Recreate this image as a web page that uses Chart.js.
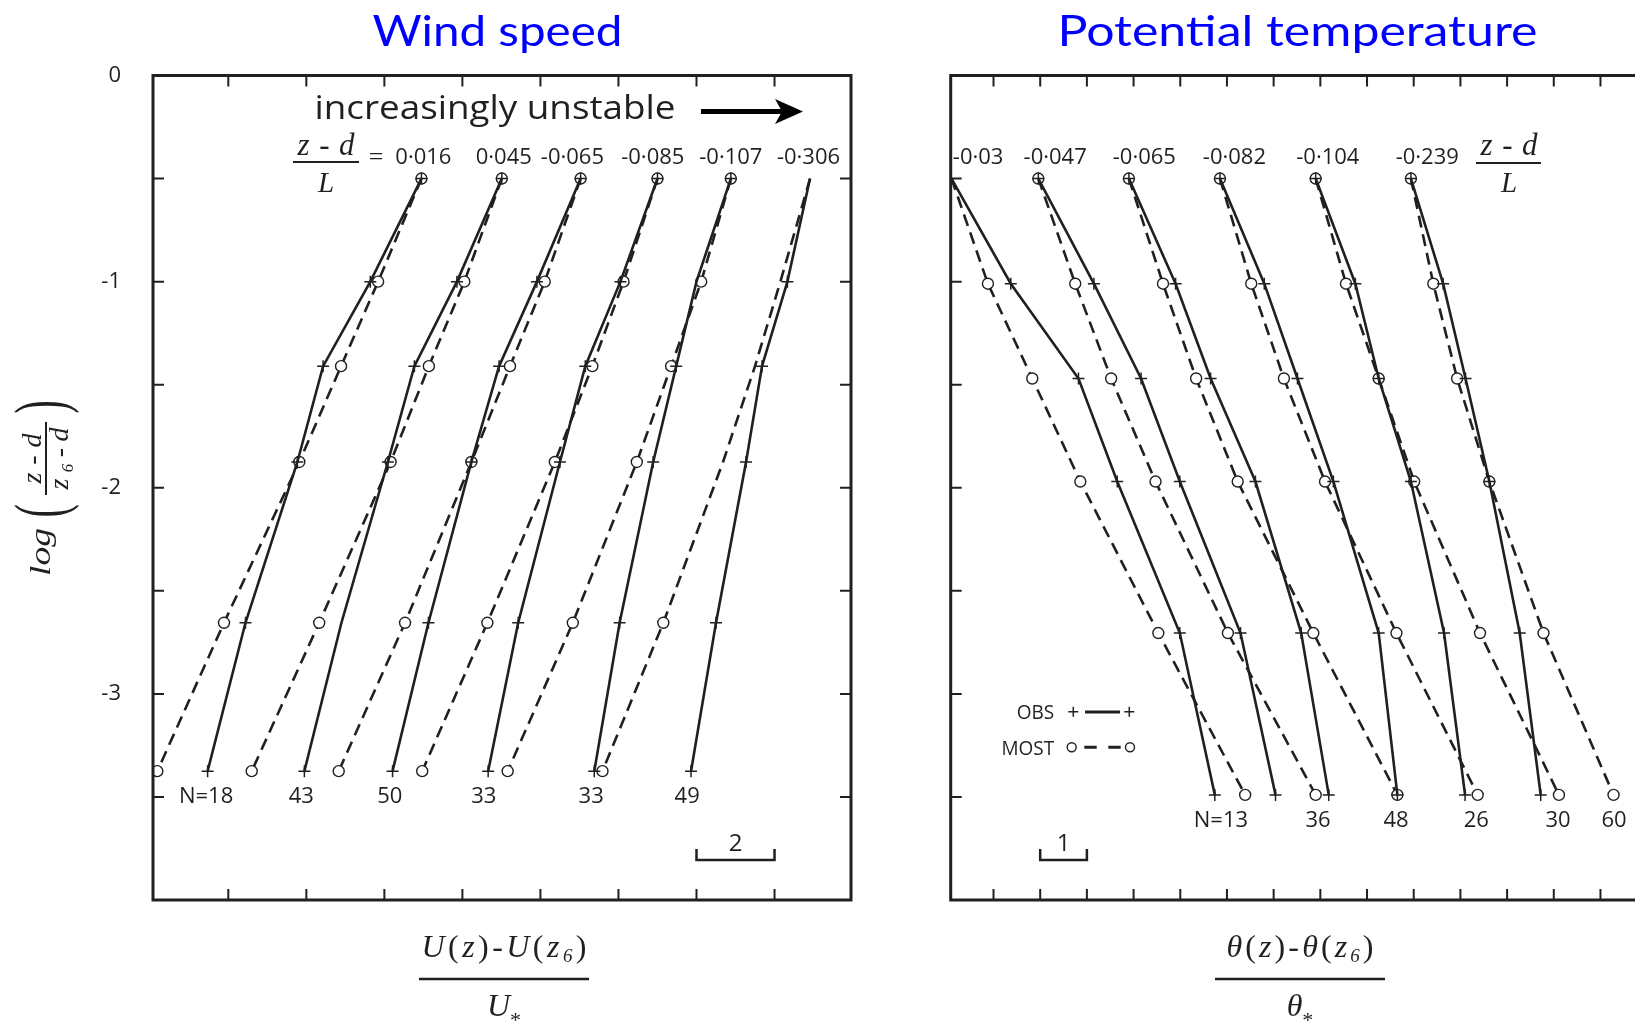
<!DOCTYPE html>
<html><head><meta charset="utf-8">
<script src="https://cdn.jsdelivr.net/npm/chart.js@4.4.1/dist/chart.umd.min.js"></script>
<style>
html,body{margin:0;padding:0;overflow:hidden;background:#fff;width:1635px;height:1021px;}
#c1{position:absolute;left:0;top:0;}
#c2{position:absolute;left:900px;top:0;}
svg{position:absolute;left:0;top:0;pointer-events:none;}
</style></head><body>
<canvas id="c1" width="900" height="1021"></canvas>
<canvas id="c2" width="800" height="1021"></canvas>
<svg width="1635" height="1021" font-family="Liberation Serif" fill="#231f20">
  <text x="497.5" y="46" text-anchor="middle" font-family="Lato" font-size="43" fill="#0000ff" textLength="250" lengthAdjust="spacingAndGlyphs">Wind speed</text>
  <text x="1297.5" y="46" text-anchor="middle" font-family="Lato" font-size="43" fill="#0000ff" textLength="480" lengthAdjust="spacingAndGlyphs">Potential temperature</text>
  <text x="495" y="118.5" text-anchor="middle" font-family="Open Sans" font-size="32" textLength="361" lengthAdjust="spacingAndGlyphs">increasingly unstable</text>
  <line x1="701" y1="111.5" x2="786" y2="111.5" stroke="#000" stroke-width="5"/>
  <polygon points="803,111.5 775,99 782,111.5 775,124" fill="#000"/>
  <!-- (z-d)/L left -->
  <text x="326" y="155" text-anchor="middle" font-size="31" font-style="italic" textLength="57" lengthAdjust="spacing">z-d</text>
  <line x1="293" x2="359" y1="162" y2="162" stroke="#231f20" stroke-width="2"/>
  <text x="326" y="192" text-anchor="middle" font-size="29" font-style="italic">L</text>
  <text x="376" y="165" text-anchor="middle" font-size="26">=</text>
  <!-- (z-d)/L right -->
  <text x="1509" y="155" text-anchor="middle" font-size="31" font-style="italic" textLength="57" lengthAdjust="spacing">z-d</text>
  <line x1="1476" x2="1541" y1="163" y2="163" stroke="#231f20" stroke-width="2"/>
  <text x="1509" y="192" text-anchor="middle" font-size="29" font-style="italic">L</text>
  <!-- x axis titles -->
  <text x="504" y="957" text-anchor="middle" font-size="32" font-style="italic" textLength="165" lengthAdjust="spacing">U<tspan font-style="normal">(</tspan>z<tspan font-style="normal">)-</tspan>U<tspan font-style="normal">(</tspan>z<tspan font-size="19" dy="5">6</tspan><tspan font-style="normal" dy="-5">)</tspan></text>
  <line x1="419" x2="589" y1="979" y2="979" stroke="#231f20" stroke-width="2.5"/>
  <text x="504" y="1016" text-anchor="middle" font-size="32" font-style="italic">U<tspan font-size="22" dy="11" font-style="normal">*</tspan></text>
  <text x="1300" y="957" text-anchor="middle" font-size="32" font-style="italic" textLength="147" lengthAdjust="spacing">θ<tspan font-style="normal">(</tspan>z<tspan font-style="normal">)-</tspan>θ<tspan font-style="normal">(</tspan>z<tspan font-size="19" dy="5">6</tspan><tspan font-style="normal" dy="-5">)</tspan></text>
  <line x1="1215" x2="1385" y1="979" y2="979" stroke="#231f20" stroke-width="2.5"/>
  <text x="1300" y="1016" text-anchor="middle" font-size="32" font-style="italic">θ<tspan font-size="22" dy="11" font-style="normal">*</tspan></text>
  <!-- y axis title -->
  <g transform="translate(50,488) rotate(-90)">
    <text x="-64" y="0" text-anchor="middle" font-size="30" font-style="italic" textLength="48" lengthAdjust="spacingAndGlyphs">log</text>
    <text transform="translate(-23,14) scale(0.55,1)" text-anchor="middle" font-size="72">(</text>
    <text x="29.5" y="-9" text-anchor="middle" font-size="28" font-style="italic" textLength="50" lengthAdjust="spacing">z-d</text>
    <line x1="-7" x2="66" y1="-4" y2="-4" stroke="#231f20" stroke-width="2"/>
    <text x="29.5" y="18" text-anchor="middle" font-size="28" font-style="italic" textLength="62" lengthAdjust="spacing">z<tspan font-size="17" dy="5">6</tspan><tspan dy="-5">-d</tspan></text>
    <text transform="translate(81,14) scale(0.55,1)" text-anchor="middle" font-size="72">)</text>
  </g>
</svg>
<script>
// ---------- DATA ----------
const windLevels = [-0.5, -1.0, -1.41, -1.875, -2.655, -3.375];
const tempLevels = [-0.5, -1.01, -1.47, -1.97, -2.705, -3.49];

const windStability = ['0·016', '0·045', '-0·065', '-0·085', '-0·107', '-0·306'];
const windStabilityX = [7.00, 9.06, 10.82, 12.88, 14.88, 16.87];
const windN = ['N=18', '43', '50', '33', '33', '49'];
const windNX = [1.43, 3.87, 6.14, 8.55, 11.30, 13.76];

const tempStability = ['-0·03', '-0·047', '-0·065', '-0·082', '-0·104', '-0·239'];
const tempStabilityX = [0.67, 2.32, 4.23, 6.16, 8.16, 10.29];
const tempN = ['N=13', '36', '48', '26', '30', '60'];
const tempNX = [5.87, 7.95, 9.62, 11.34, 13.09, 14.29];

// wind speed profiles (U(z)-U(z6))/U*, offset per stability class
const windObs = [
  [6.95, 5.64, 4.43, 3.77, 2.44, 1.47],
  [9.01, 7.86, 6.77, 6.09, 4.90, 3.95],
  [11.03, 9.91, 8.94, 8.23, 7.13, 6.21],
  [13.00, 12.05, 11.15, 10.50, 9.43, 8.66],
  [14.88, 14.00, 13.48, 12.89, 12.03, 11.38],
  [16.91, 16.33, 15.68, 15.27, 14.50, 13.86]
];
const windMost = [
  [6.95, 5.84, 4.89, 3.82, 1.89, 0.18],
  [9.01, 8.05, 7.14, 6.16, 4.33, 2.60],
  [11.03, 10.11, 9.22, 8.23, 6.53, 4.83],
  [13.00, 12.13, 11.33, 10.37, 8.64, 6.97],
  [14.88, 14.12, 13.35, 12.47, 10.83, 9.16],
  [16.91, 16.15, 15.50, 14.68, 13.15, 11.59]
];
// potential temperature profiles (θ(z)-θ(z6))/θ*
const tempObs = [
  [0.10, 1.37, 2.82, 3.65, 4.99, 5.74],
  [1.96, 3.15, 4.16, 4.99, 6.29, 7.04],
  [3.90, 4.90, 5.65, 6.61, 7.59, 8.18],
  [5.85, 6.80, 7.51, 8.28, 9.25, 9.65],
  [7.90, 8.75, 9.25, 9.94, 10.65, 11.10],
  [9.94, 10.63, 11.11, 11.62, 12.27, 12.72]
];
const tempMost = [
  [0.10, 0.88, 1.83, 2.86, 4.53, 6.39],
  [1.96, 2.75, 3.52, 4.47, 6.02, 7.90],
  [3.90, 4.63, 5.34, 6.23, 7.85, 9.65],
  [5.85, 6.52, 7.22, 8.10, 9.63, 11.37],
  [7.90, 8.55, 9.25, 10.01, 11.42, 13.11],
  [9.94, 10.42, 10.93, 11.62, 12.78, 14.28]
];
// level indices where no marker is printed in the original
const windObsNoMarker = [[], [4], [], [], [1], [0]];
const windMostNoMarker = [[], [], [], [], [], [0, 1, 2, 3]];
const tempObsNoMarker = [[0], [], [], [], [], []];
const tempMostNoMarker = [[0], [], [], [], [], []];

const windXTicks = [2, 4, 6, 8, 10, 12, 14, 16];
const tempXTicks = [1, 2, 3, 4, 5, 6, 7, 8, 9, 10, 11, 12, 13, 14];
const yTicks = [0, -0.5, -1, -1.5, -2, -2.5, -3, -3.5, -4];
const yTickLabels = [0, -1, -2, -3];
const windScaleBar = [14, 16], windScaleLabel = '2';
const tempScaleBar = [2, 3], tempScaleLabel = '1';

// ---------- DRAWING ----------
const INK = '#231f20';
Chart.defaults.font.family = '"Open Sans"';

function buildDatasets(levels, obs, most, obsHidden, mostHidden) {
  const ds = [];
  obs.forEach((row, i) => ds.push({
    data: row.map((x, j) => ({x, y: levels[j]})),
    showLine: true, borderColor: INK, borderWidth: 2.6, tension: 0,
    pointStyle: 'cross', pointRadius: row.map((_, j) => obsHidden[i].includes(j) ? 0 : 6),
    pointBorderColor: INK, pointBorderWidth: 1.5, order: 0
  }));
  most.forEach((row, i) => ds.push({
    data: row.map((x, j) => ({x, y: levels[j]})),
    showLine: true, borderColor: INK, borderWidth: 2.6, borderDash: [12, 7], tension: 0,
    pointStyle: 'circle', pointRadius: row.map((_, j) => mostHidden[i].includes(j) ? 0 : 5.5),
    pointBorderColor: INK, pointBackgroundColor: '#fff', pointBorderWidth: 1.4, order: 1
  }));
  return ds;
}

function txt(ctx, s, x, y, size, align, sx) {
  ctx.save();
  ctx.font = size + 'px "Open Sans"';
  ctx.fillStyle = INK;
  ctx.textBaseline = 'alphabetic';
  ctx.textAlign = 'left';
  const w = ctx.measureText(s).width * sx;
  const x0 = align === 'center' ? x - w / 2 : align === 'right' ? x - w : x;
  ctx.translate(x0, y); ctx.scale(sx, 1);
  ctx.fillText(s, 0, 0);
  ctx.restore();
}

const framePlugin = {
  id: 'frame',
  afterDatasetsDraw(chart, args, o) {
    const {ctx, chartArea: a} = chart;
    const xs = chart.scales.x, ys = chart.scales.y;
    ctx.save();
    ctx.strokeStyle = INK;
    ctx.lineWidth = 2;
    ctx.beginPath();
    o.xTicks.forEach(v => {
      const p = xs.getPixelForValue(v);
      ctx.moveTo(p, a.top); ctx.lineTo(p, a.top + 11);
      ctx.moveTo(p, a.bottom); ctx.lineTo(p, a.bottom - 11);
    });
    yTicks.forEach(v => {
      const p = ys.getPixelForValue(v);
      ctx.moveTo(a.left, p); ctx.lineTo(a.left + 11, p);
      ctx.moveTo(a.right, p); ctx.lineTo(a.right - 11, p);
    });
    ctx.stroke();
    ctx.lineWidth = 3;
    ctx.strokeRect(a.left, a.top, a.right - a.left, a.bottom - a.top);

    // stability labels and sample sizes
    o.stab.forEach((s, i) => txt(ctx, s, xs.getPixelForValue(o.stabX[i]), a.top + 88.5, 22, 'center', 1));
    const yb = ys.getPixelForValue(o.levels[o.levels.length - 1]) + 32;
    o.n.forEach((s, i) => txt(ctx, s, xs.getPixelForValue(o.nX[i]), yb, 22, 'center', 1));

    // scale bar
    const b0 = xs.getPixelForValue(o.bar[0]), b1 = xs.getPixelForValue(o.bar[1]);
    const by = a.bottom - 40;
    ctx.lineWidth = 2.5;
    ctx.beginPath();
    ctx.moveTo(b0, by - 11); ctx.lineTo(b0, by); ctx.lineTo(b1, by); ctx.lineTo(b1, by - 11);
    ctx.stroke();
    txt(ctx, o.barLabel, (b0 + b1) / 2, a.bottom - 49, 24, 'center', 1);

    if (o.legend) {
      const L = a.left;
      txt(ctx, 'OBS', L + 103.5, 719, 20, 'right', 0.95);
      txt(ctx, 'MOST', L + 103.5, 755, 20, 'right', 0.95);
      ctx.lineWidth = 1.5;
      ctx.beginPath();
      [[L + 122.6, 711.7], [L + 178.6, 711.7]].forEach(([x, y]) => {
        ctx.moveTo(x - 5, y); ctx.lineTo(x + 5, y);
        ctx.moveTo(x, y - 5); ctx.lineTo(x, y + 5);
      });
      ctx.stroke();
      ctx.lineWidth = 3;
      ctx.beginPath();
      ctx.moveTo(L + 134.3, 712); ctx.lineTo(L + 169.3, 712);
      ctx.moveTo(L + 133.6, 747.3); ctx.lineTo(L + 146, 747.3);
      ctx.moveTo(L + 157.6, 747.3); ctx.lineTo(L + 170, 747.3);
      ctx.stroke();
      ctx.lineWidth = 1.4;
      [[L + 121, 747.3], [L + 179.3, 747.3]].forEach(([x, y]) => {
        ctx.beginPath(); ctx.arc(x, y, 4.5, 0, Math.PI * 2); ctx.stroke();
      });
    }
    ctx.restore();
  }
};

function makeChart(id, cfg) {
  return new Chart(document.getElementById(id), {
    type: 'scatter',
    data: {datasets: buildDatasets(cfg.levels, cfg.obs, cfg.most, cfg.obsHidden, cfg.mostHidden)},
    options: {
      responsive: false, animation: false, events: [],
      layout: {padding: cfg.padding},
      plugins: {legend: {display: false}, tooltip: {enabled: false}, frame: cfg.frame},
      scales: {
        x: {
          type: 'linear', min: cfg.xmin, max: cfg.xmax, display: false,
          afterBuildTicks: s => { s.ticks = cfg.frame.xTicks.map(v => ({value: v})); }
        },
        y: {
          type: 'linear', min: -4, max: 0, display: cfg.showY,
          afterBuildTicks: s => { s.ticks = yTicks.map(v => ({value: v})); },
          afterFit: s => { s.width = cfg.yWidth; },
          grid: {display: false, drawTicks: false},
          border: {display: false},
          ticks: {
            padding: 32, color: INK, font: {size: 22, family: '"Open Sans"'},
            callback: v => yTickLabels.includes(v) ? String(v) : ''
          }
        }
      }
    },
    plugins: [framePlugin]
  });
}

makeChart('c1', {
  levels: windLevels, obs: windObs, most: windMost,
  obsHidden: windObsNoMarker, mostHidden: windMostNoMarker,
  padding: {left: 0, right: 49, top: 75.5, bottom: 121},
  xmin: 0.07, xmax: 17.96, showY: true, yWidth: 153,
  frame: {xTicks: windXTicks, stab: windStability, stabX: windStabilityX, n: windN, nX: windNX,
          levels: windLevels, bar: windScaleBar, barLabel: windScaleLabel, legend: false}
});
makeChart('c2', {
  levels: tempLevels, obs: tempObs, most: tempMost,
  obsHidden: tempObsNoMarker, mostHidden: tempMostNoMarker,
  padding: {left: 50.7, right: 51.3, top: 75.5, bottom: 121},
  xmin: 0.083, xmax: 15.033, showY: false, yWidth: 0,
  frame: {xTicks: tempXTicks, stab: tempStability, stabX: tempStabilityX, n: tempN, nX: tempNX,
          levels: tempLevels, bar: tempScaleBar, barLabel: tempScaleLabel, legend: true}
});
</script>
</body></html>
